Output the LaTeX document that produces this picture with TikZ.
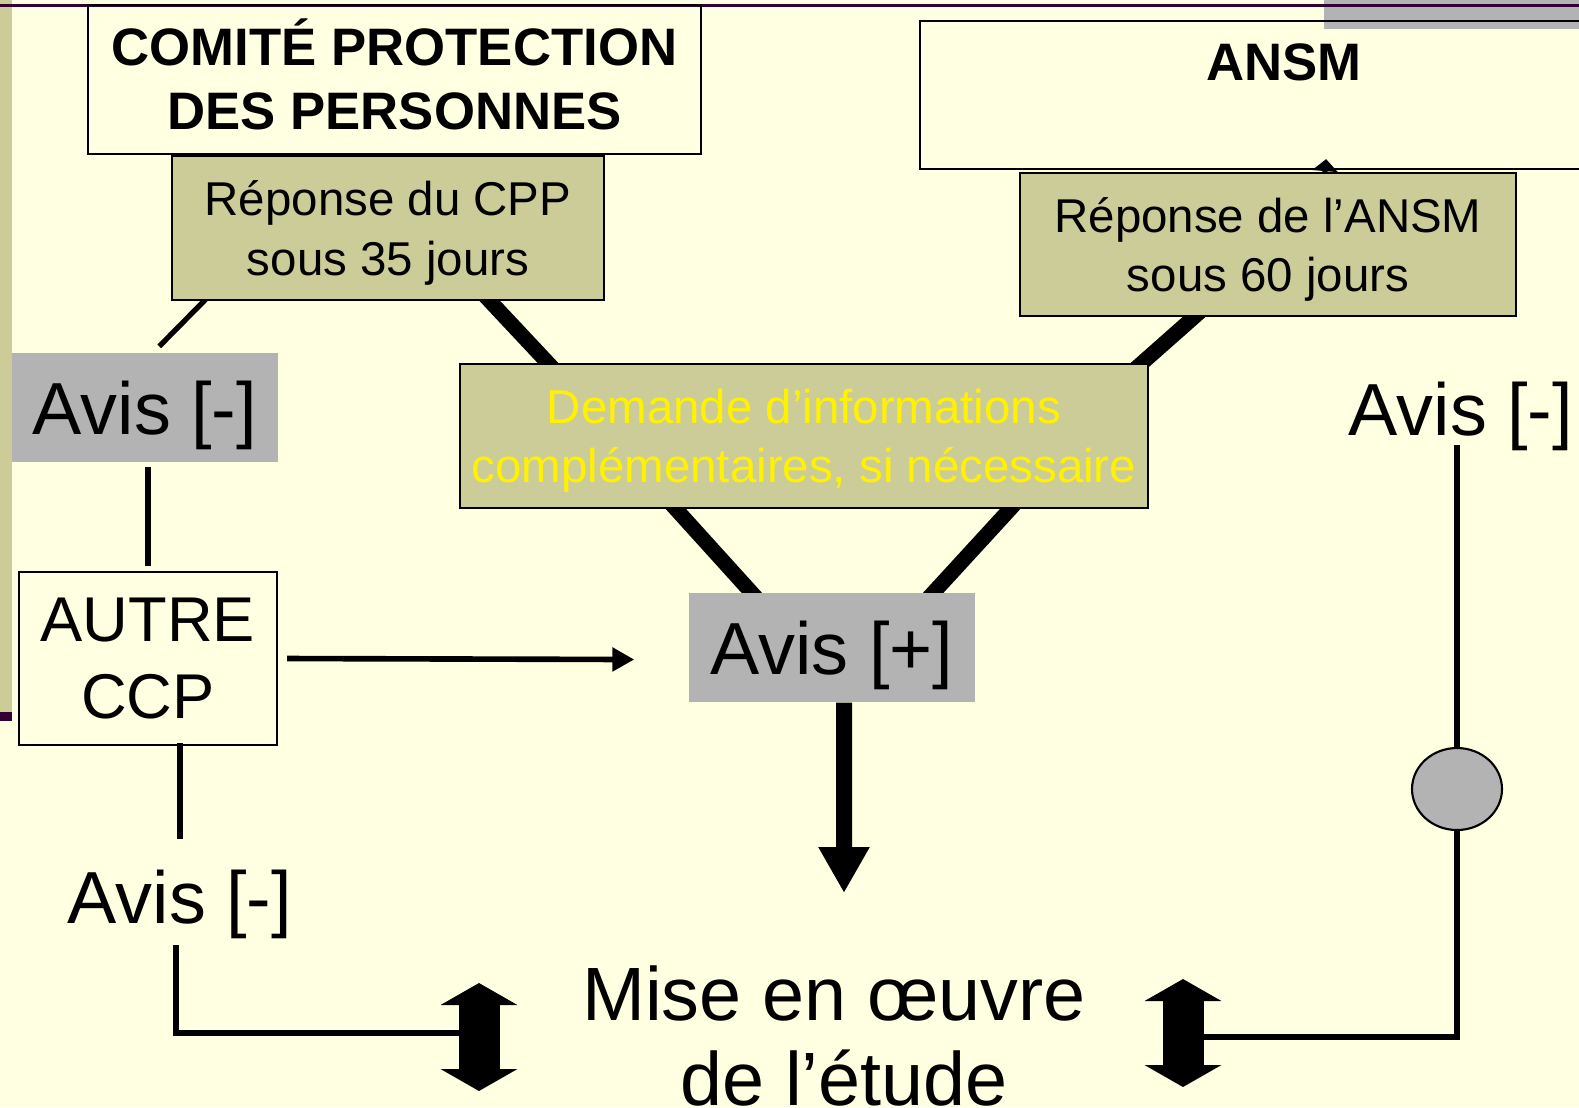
\documentclass[tikz,border=0pt]{standalone}
\usepackage{fontspec}
\setmainfont{Liberation Sans}
\usetikzlibrary{arrows.meta}
\usetikzlibrary{positioning}
\usetikzlibrary{calc}
\usetikzlibrary{shapes.geometric}
\usetikzlibrary{backgrounds}

\definecolor{slidebg}{RGB}{255,255,225}
\definecolor{khaki}{RGB}{204,204,153}
\definecolor{avisgray}{RGB}{179,179,179}
\definecolor{darkplum}{RGB}{51,0,51}

\tikzset{
    outlinebox/.style={draw=black, line width=0.6pt, inner sep=0pt, align=center},
    khakibox/.style={outlinebox, fill=khaki, text depth=0pt, font=\fontsize{13.5}{16.8}\selectfont},
    titlefont/.style={font=\fontsize{15}{18.2}\selectfont\bfseries},
    avisbox/.style={fill=avisgray, inner sep=0pt, text depth=0pt, font=\fontsize{21}{25}\selectfont},
    avistext/.style={inner sep=0pt, font=\fontsize{21}{25}\selectfont},
    thinlink/.style={line width=1.5pt},
    thicklink/.style={line width=4.3pt, shorten <=-0.1cm, shorten >=-0.1cm},
    smallarrow/.style={line width=1.6pt, -{Triangle[length=0.22cm, width=0.23cm]}},
    bigarrow/.style={line width=0.16cm, -{Triangle[length=0.46cm, width=0.48cm]}},
    twowayarrow/.style={line width=0.41cm,
        {Triangle[length=0.22cm, width=0.76cm]}-{Triangle[length=0.22cm, width=0.76cm]}},
}

\begin{document}
\begin{tikzpicture}[x=1cm, y=-1cm]
    \useasboundingbox (0,0) rectangle (15.79,11.07);

    \node[outlinebox, titlefont, text depth=0.1cm, minimum width=6.13cm, minimum height=1.49cm] (cpp) at (3.945,0.795)
        {COMITÉ PROTECTION\\DES PERSONNES};
    \node[outlinebox, anchor=north west, minimum width=7cm, minimum height=1.48cm] (ansm) at (9.19,0.20) {};
    \node[titlefont, inner sep=0pt] (ansm-title) at (12.84,0.62) {ANSM};

    \node[khakibox, minimum width=4.32cm, minimum height=1.44cm] (rcpp) at (3.88,2.28)
        {Réponse du CPP\\sous 35 jours};
    \node[khakibox, minimum width=4.96cm, minimum height=1.43cm] (ransm) at (12.68,2.445)
        {Réponse de l’ANSM\\sous 60 jours};
    \node[khakibox, text=yellow, minimum width=6.88cm, minimum height=1.44cm] (demande) at (8.04,4.36)
        {Demande d’informations\\complémentaires, si nécessaire};

    \node[avisbox, minimum width=2.66cm, minimum height=1.09cm] (avisl) at (1.45,4.075) {Avis [-]};
    \node[avistext] (avisr) at (14.61,4.16) {Avis [-]};
    \node[avisbox, minimum width=2.86cm, minimum height=1.09cm] (avisplus) at (8.32,6.475) {Avis [+]};

    \node[outlinebox, font=\fontsize{18}{21.7}\selectfont, minimum width=2.58cm, minimum height=1.73cm]
        (autre) at (1.48,6.585) {AUTRE\\CCP};
    \node[avistext] (avisb) at (1.80,9.04) {Avis [-]};

    \node[ellipse, draw=black, line width=0.6pt, fill=avisgray, minimum width=0.90cm,
        minimum height=0.82cm, inner sep=0pt] (circ) at (14.57,7.89) {};

    \node[align=center, inner sep=0pt, font=\fontsize{21.5}{24.3}\selectfont] (mise) at (8.34,10.36)
        {Mise en œuvre\\\hspace*{0.2cm}de l’étude};

    \coordinate (mise-top) at (8.44,8.93);
    \coordinate (left-dbl-top) at (4.79,9.83);
    \coordinate (left-dbl-mid) at (4.79,10.33);
    \coordinate (left-dbl-bot) at (4.79,10.91);
    \coordinate (right-dbl-top) at (11.83,9.79);
    \coordinate (right-dbl-mid) at (11.83,10.37);
    \coordinate (right-dbl-bot) at (11.83,10.87);

    \begin{scope}[on background layer]
        \fill[slidebg] (0,0) rectangle (15.79,11.07);
        \fill[khaki] (0,0) rectangle (0.12,7.12);
        \fill[darkplum] (0,7.12) rectangle (0.12,7.21);
        \fill[avisgray] (13.24,0) rectangle (15.79,0.29);
        \fill[darkplum] (0,0.04) rectangle (15.79,0.07);

        \draw[thinlink, shorten <=-0.1cm] ([xshift=0.33cm]rcpp.south west) -- ([xshift=1.48cm,yshift=0.06cm]avisl.north west);
        \draw[thicklink] ([xshift=3.19cm]rcpp.south west) -- ([xshift=0.89cm]demande.north west);
        \draw[thicklink] ([xshift=1.75cm]ransm.south west) -- ([xshift=-0.07cm]demande.north east);
        \draw[thicklink] ([xshift=2.17cm]demande.south west) -- ([xshift=0.63cm]avisplus.north west);
        \draw[thicklink] ([xshift=-1.39cm]demande.south east) -- ([xshift=-0.42cm]avisplus.north east);
        \draw[line width=1.5pt, -{Triangle[length=0.12cm, width=0.25cm]}]
            ([xshift=0.57cm]ransm.north) -- ($(ansm.south)+(0.56,-0.11)$);

        \draw[thinlink] ($(autre.north |- avisl.south)+(0,0.04)$) -- ($(autre.north)+(0,-0.05)$);
        \draw[smallarrow] ([xshift=0.09cm]autre.east) -- ([xshift=-0.54cm,yshift=-0.12cm]avisplus.west);
        \draw[thinlink] ($(autre.south -| avisb.north)+(0,-0.03)$) -- ($(avisb.north)+(0,-0.30)$);
        \draw[thinlink] ($(avisb.south)+(-0.04,0.06)$) |- (left-dbl-mid);

        \draw[bigarrow] ([xshift=0.12cm]avisplus.south) -- (mise-top);

        \draw[thinlink] (circ.north) -- ($(circ.north |- avisr.south)+(0,-0.06)$);
        \draw[thinlink] (circ.south) |- (right-dbl-mid);
    \end{scope}

    \draw[twowayarrow] (left-dbl-top) -- (left-dbl-bot);
    \draw[twowayarrow] (right-dbl-top) -- (right-dbl-bot);
\end{tikzpicture}
\end{document}
